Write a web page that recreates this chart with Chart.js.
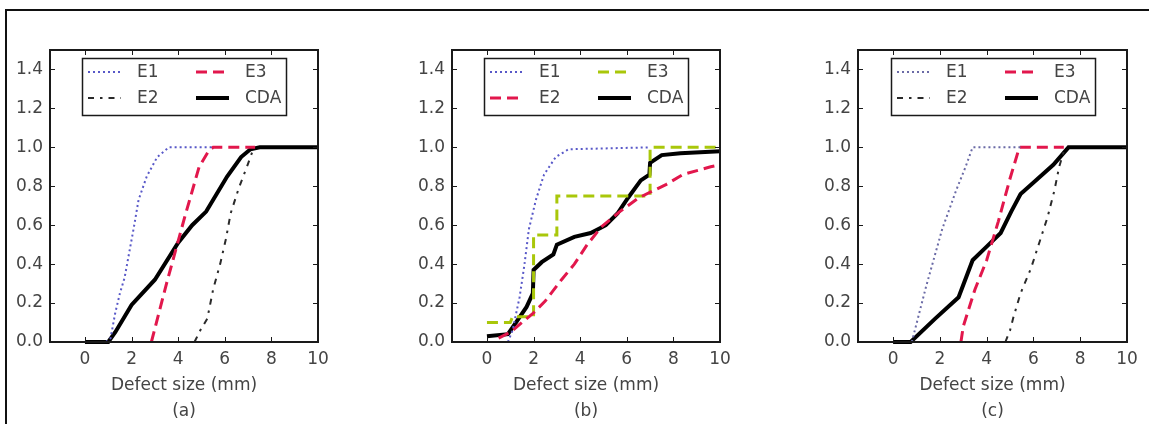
<!DOCTYPE html>
<html>
<head>
<meta charset="utf-8">
<script src="https://cdn.jsdelivr.net/npm/chart.js@4.4.1/dist/chart.umd.min.js"></script>
<style>
  html, body { margin: 0; padding: 0; background: #fff; }
  #page { position: relative; width: 1149px; height: 424px; overflow: hidden; background: #fff; }
  #frame { position: absolute; left: 5px; top: 9px; right: -5px; bottom: -5px; border-top: 2px solid #111; border-left: 2px solid #111; }
  .panel { position: absolute; top: 0; }
</style>
</head>
<body>
<div id="page">
  <div id="frame"></div>
  <canvas id="chartA" class="panel" width="380" height="424" style="left:0px"></canvas>
  <canvas id="chartB" class="panel" width="390" height="424" style="left:380px"></canvas>
  <canvas id="chartC" class="panel" width="379" height="424" style="left:770px"></canvas>
</div>
<script>
// tick labels / captions
const xTicks = [0, 2, 4, 6, 8, 10]
const yTicks = [0, 0.2, 0.4, 0.6, 0.8, 1.0, 1.2, 1.4]
const xTitle = 'Defect size (mm)'
const panelLabels = ['(a)', '(b)', '(c)']

// panel (a) : [defect size, cumulative probability]
const aE1 = [[0.9, 0], [1.1, 0.02], [1.3, 0.15], [1.5, 0.25], [1.7, 0.33], [1.9, 0.46], [2.1, 0.59], [2.3, 0.73], [2.65, 0.85], [3.1, 0.95], [3.6, 1.0], [5.5, 1.0]]
const aE2 = [[4.7, 0], [4.95, 0.06], [5.25, 0.12], [5.5, 0.27], [5.8, 0.4], [6.05, 0.53], [6.25, 0.66], [6.6, 0.79], [6.98, 0.91], [7.25, 1.0]]
const aE3 = [[2.85, 0], [3.5, 0.3], [4.3, 0.65], [4.9, 0.9], [5.3, 0.98], [5.5, 1.0], [7.3, 1.0]]
const aCDA = [[0, 0], [1.0, 0], [1.3, 0.05], [2.0, 0.19], [3.0, 0.32], [4.0, 0.51], [4.6, 0.6], [5.2, 0.67], [6.1, 0.85], [6.7, 0.95], [7.1, 0.99], [7.5, 1.0], [10, 1.0]]

// panel (b)
const bE1 = [[0.9, 0], [1.1, 0.06], [1.4, 0.23], [1.6, 0.39], [1.8, 0.58], [2.1, 0.73], [2.45, 0.86], [2.95, 0.95], [3.5, 0.99], [7.0, 1.0]]
const bE2 = [[0.5, 0.02], [1.0, 0.05], [1.5, 0.1], [2.0, 0.15], [2.5, 0.21], [3.2, 0.32], [3.75, 0.4], [4.3, 0.5], [4.9, 0.59], [5.7, 0.67], [6.5, 0.74], [7.7, 0.81], [8.4, 0.86], [9.6, 0.9], [10, 0.91]]
const bE3 = [[0, 0.1], [1.0, 0.1], [1.1, 0.13], [2.0, 0.13], [2.0, 0.55], [3.0, 0.55], [3.0, 0.75], [7.0, 0.75], [7.0, 1.0], [10, 1.0]]
const bCDA = [[0, 0.03], [0.9, 0.04], [1.3, 0.11], [1.7, 0.18], [1.97, 0.25], [2.0, 0.37], [2.35, 0.41], [2.85, 0.45], [3.0, 0.5], [3.75, 0.54], [4.45, 0.56], [5.1, 0.6], [5.6, 0.66], [6.05, 0.74], [6.6, 0.83], [6.97, 0.86], [7.0, 0.92], [7.5, 0.96], [8.3, 0.97], [10, 0.98]]

// panel (c)
const cE1 = [[0.8, 0], [1.4, 0.28], [2.1, 0.58], [2.7, 0.78], [3.1, 0.9], [3.4, 1.0], [5.5, 1.0]]
const cE2 = [[4.8, 0], [5.0, 0.06], [5.15, 0.13], [5.45, 0.25], [5.9, 0.38], [6.25, 0.51], [6.6, 0.64], [6.9, 0.78], [7.1, 0.9], [7.35, 1.0]]
const cE3 = [[2.9, 0], [3.0, 0.08], [3.5, 0.27], [4.0, 0.42], [4.5, 0.62], [5.0, 0.84], [5.4, 1.0], [7.3, 1.0]]
const cCDA = [[0, 0], [0.75, 0], [1.8, 0.12], [2.8, 0.23], [3.4, 0.42], [4.0, 0.49], [4.6, 0.56], [5.05, 0.67], [5.45, 0.76], [6.1, 0.83], [6.85, 0.91], [7.5, 1.0], [10, 1.0]]

const FONT = 'DejaVu Sans'
const TXT = '#444'

const dotted = (color) => ({ borderColor: color, borderWidth: 2, borderDash: [2, 3] })
const dashed = (color) => ({ borderColor: color, borderWidth: 3, borderDash: [11, 6] })
const dashDot = (color) => ({ borderColor: color, borderWidth: 2, borderDash: [6, 6, 2.5, 6] })
const solid = (color) => ({ borderColor: color, borderWidth: 4, borderDash: [] })

function toXY(pairs) {
  return pairs.map(([x, y]) => ({ x, y }))
}

// matplotlib-like frame with inward ticks
const frameTicks = {
  id: 'frameTicks',
  afterDraw(chart) {
    const { ctx, chartArea: a, scales } = chart
    ctx.save()
    ctx.strokeStyle = '#1a1a1a'
    ctx.lineWidth = 1
    const len = 5
    ctx.beginPath()
    xTicks.forEach((v) => {
      const px = Math.round(scales.x.getPixelForValue(v)) + 0.5
      ctx.moveTo(px, a.bottom); ctx.lineTo(px, a.bottom - len)
      ctx.moveTo(px, a.top); ctx.lineTo(px, a.top + len)
    })
    yTicks.forEach((v) => {
      const py = Math.round(scales.y.getPixelForValue(v)) + 0.5
      ctx.moveTo(a.left, py); ctx.lineTo(a.left + len, py)
      ctx.moveTo(a.right, py); ctx.lineTo(a.right - len, py)
    })
    ctx.stroke()
    ctx.lineWidth = 2
    ctx.strokeRect(a.left, a.top, a.right - a.left, a.bottom - a.top)
    ctx.restore()
  },
}

// legend box inside the axes, 2 columns
const insideLegend = {
  id: 'insideLegend',
  afterDatasetsDraw(chart) {
    const { ctx, chartArea: a } = chart
    const w = 204, h = 57
    const bx = Math.round((a.left + a.right) / 2 - w / 2)
    const by = a.top + 8
    ctx.save()
    ctx.fillStyle = '#fff'
    ctx.fillRect(bx, by, w, h)
    ctx.strokeStyle = '#1a1a1a'
    ctx.lineWidth = 1.5
    ctx.strokeRect(bx + 0.5, by + 0.5, w, h)
    const slots = { E1: [0, 0], E2: [0, 1], E3: [1, 0], CDA: [1, 1] }
    ctx.font = `17px "${FONT}"`
    ctx.textBaseline = 'middle'
    chart.data.datasets.forEach((ds) => {
      const [col, row] = slots[ds.label]
      const hx = bx + (col === 0 ? 6 : 114)
      const y = by + (row === 0 ? 14 : 40)
      ctx.beginPath()
      ctx.strokeStyle = ds.borderColor
      ctx.lineWidth = ds.borderWidth
      ctx.setLineDash(ds.borderDash || [])
      ctx.moveTo(hx, y)
      ctx.lineTo(hx + 33, y)
      ctx.stroke()
      ctx.setLineDash([])
      ctx.fillStyle = TXT
      ctx.fillText(ds.label, hx + 49, y + 1)
    })
    ctx.restore()
  },
}

function makePanel({ id, label, padLeft, padRight, series }) {
  const el = document.getElementById(id)
  return new Chart(el, {
    type: 'line',
    data: {
      datasets: series.map((s) => ({
        label: s.name,
        data: toXY(s.data),
        ...s.style,
        pointRadius: 0,
        fill: false,
        tension: 0,
        clip: 5,
      })),
    },
    options: {
      responsive: false,
      animation: false,
      layout: { padding: { left: padLeft, right: padRight, top: 50, bottom: 0 } },
      plugins: { legend: { display: false }, tooltip: { enabled: false } },
      scales: {
        x: {
          type: 'linear',
          min: -1.5,
          max: 10,
          grid: { display: false, drawTicks: false },
          border: { display: false },
          afterBuildTicks: (scale) => { scale.ticks = xTicks.map((v) => ({ value: v })) },
          afterFit: (scale) => { scale.height = 82 },
          ticks: { padding: 7, color: TXT, font: { family: FONT, size: 17 }, maxRotation: 0 },
          title: {
            display: true,
            text: [xTitle, label],
            color: TXT,
            font: { family: FONT, size: 17, lineHeight: 1.5 },
            padding: { top: 0, bottom: 0 },
          },
        },
        y: {
          min: 0,
          max: 1.5,
          grid: { display: false, drawTicks: false },
          border: { display: false },
          afterBuildTicks: (scale) => { scale.ticks = yTicks.map((v) => ({ value: v })) },
          afterFit: (scale) => { scale.width = 40 },
          ticks: { padding: 7, color: TXT, font: { family: FONT, size: 17 }, callback: (v) => Number(v).toFixed(1) },
        },
      },
    },
    plugins: [insideLegend, frameTicks],
  })
}

// main
;(() => {
  const blue = '#5858c8'
  const red = '#e2174c'
  const green = '#a9c70a'
  const dark = '#2a2a2a'
  makePanel({
    id: 'chartA', label: panelLabels[0], padLeft: 10, padRight: 62,
    series: [
      { name: 'E1', data: aE1, style: dotted(blue) },
      { name: 'E2', data: aE2, style: dashDot(dark) },
      { name: 'E3', data: aE3, style: dashed(red) },
      { name: 'CDA', data: aCDA, style: solid('#000') },
    ],
  })
  makePanel({
    id: 'chartB', label: panelLabels[1], padLeft: 32, padRight: 50,
    series: [
      { name: 'E1', data: bE1, style: dotted(blue) },
      { name: 'E2', data: bE2, style: dashed(red) },
      { name: 'E3', data: bE3, style: dashed(green) },
      { name: 'CDA', data: bCDA, style: solid('#000') },
    ],
  })
  makePanel({
    id: 'chartC', label: panelLabels[2], padLeft: 48, padRight: 22,
    series: [
      { name: 'E1', data: cE1, style: dotted('#6a6aa6') },
      { name: 'E2', data: cE2, style: dashDot(dark) },
      { name: 'E3', data: cE3, style: dashed(red) },
      { name: 'CDA', data: cCDA, style: solid('#000') },
    ],
  })
})()
</script>
</body>
</html>
